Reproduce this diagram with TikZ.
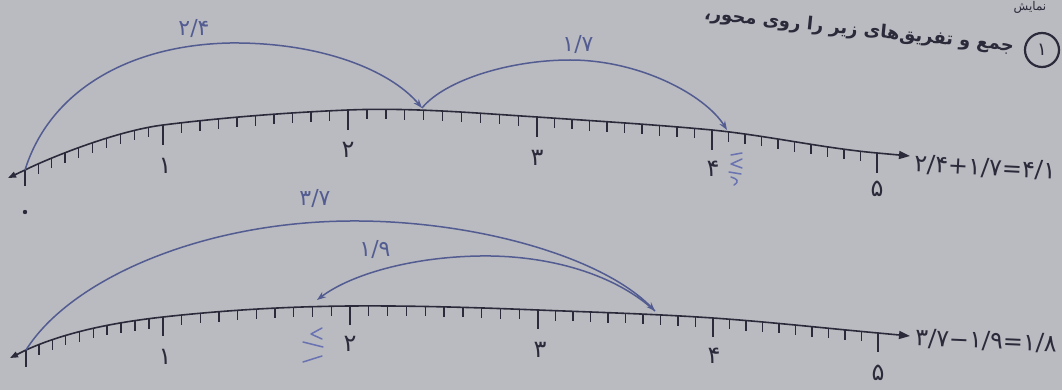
\documentclass[tikz,border=0pt]{standalone}
\usepackage{fontspec}
\setmainfont{DejaVu Sans}
\newfontfamily\arabicfont[Script=Arabic]{DejaVu Sans}
\newfontfamily\digitfont{DejaVu Sans}
\TeXXeTstate=1
\usetikzlibrary{decorations.markings,arrows.meta}
\definecolor{paper}{RGB}{186,186,193}
\definecolor{ink}{RGB}{42,42,58}
\definecolor{pen}{RGB}{82,92,145}
\definecolor{hand}{RGB}{105,115,178}
\begin{document}
\begin{tikzpicture}[x=1pt,y=-1pt,
  axisline/.style={ink, line width=1.6pt},
  tickline/.style={ink, line width=1.3pt},
  majortick/.style={ink, line width=1.6pt},
  minorticks/.style={decorate, decoration={markings,
     mark=between positions 0.1 and 0.95 step 0.1 with
     {\pgftransformresetnontranslations \draw[tickline] (0,0) -- (0,10);}}},
  axisarrow/.style={axisline, -{Triangle[length=11pt,width=8pt]}},
  jump/.style={pen, line width=1.5pt, -{Stealth[length=9pt,width=6.5pt]}},
  lab/.style={ink, font=\digitfont\fontsize{24}{26}\selectfont, inner sep=0pt},
  arclab/.style={pen, font=\digitfont\fontsize{22}{24}\selectfont, inner sep=0pt},
  eq/.style={ink, font=\digitfont\fontsize{24}{26}\selectfont, inner sep=0pt, anchor=west},
  handpen/.style={hand, line width=1.5pt, line cap=round, line join=round}]
\useasboundingbox (0,0) rectangle (1062,390);
\fill[paper] (0,0) rectangle (1062,390);

% ---------- header ----------
\node[ink, font=\arabicfont\fontsize{12}{14}\selectfont, inner sep=0pt, anchor=north] (prev) at (1030,1) {\beginR نمایش\endR};
\node[draw=ink, circle, line width=2.2pt, minimum size=34pt, inner sep=0pt,
      font=\digitfont\fontsize{18}{20}\selectfont, text=ink] (num) at (1042,50) {۱};
\node[ink, font=\arabicfont\bfseries\fontsize{18}{20}\selectfont, inner sep=0pt, anchor=east, rotate=-6] (hdr) at (1014,47)
  {\beginR جمع و تفریق‌های زیر را روی محور،\endR};

% ---------- top axis ----------
\coordinate (AL) at (8,178);
\coordinate (A0) at (25,170);
\coordinate (A1) at (163,125);
\coordinate (A2) at (348,110);
\coordinate (A3) at (537,117);
\coordinate (A4) at (712,130);
\coordinate (A5) at (877,153);
\coordinate (AR) at (910,156);
\draw[axisline] (A0) .. controls (47,159) and (115,131) .. (A1)
   .. controls (223,117.5) and (288,112.5) .. (A2)
   .. controls (411,107.4) and (474,113) .. (A3)
   .. controls (595,121) and (654,124.5) .. (A4)
   .. controls (767,135.5) and (822,148) .. (A5);
\draw[axisarrow] (A5) -- (AR);
\draw[axisline, -{Triangle[length=8pt,width=6pt]}] (A0) -- (AL);
\path[minorticks] (A0) .. controls (47,159) and (115,131) .. (A1);
\path[minorticks] (A1) .. controls (223,117.5) and (288,112.5) .. (A2);
\path[minorticks] (A2) .. controls (411,107.4) and (474,113) .. (A3);
\path[minorticks] (A3) .. controls (595,121) and (654,124.5) .. (A4);
\path[minorticks] (A4) .. controls (767,135.5) and (822,148) .. (A5);
\draw[majortick] (A0) -- ++(0,16);
\foreach \p in {A1,A2,A3,A4,A5} \draw[majortick] (\p) -- ++(0,20);
\node[lab] (a1) at (165,166) {۱};
\node[lab] (a2) at (348,150) {۲};
\node[lab] (a3) at (537,158) {۳};
\node[lab] (a4) at (713,169) {۴};
\node[lab] (a5) at (877,189) {۵};
\node[eq, rotate=-3] (eqa) at (914,164) {۲/۴+۱/۷=۴/۱};

% top jumps
\coordinate (J1) at (422,108);
\coordinate (J2) at (727,130);
\draw[jump] (A0) .. controls (50,90) and (130,45) .. (230,43)
   .. controls (320,42) and (390,70) .. (J1);
\draw[jump] (J1) .. controls (445,80) and (510,60) .. (570,60)
   .. controls (640,60) and (705,95) .. (J2);
\node[arclab] (la) at (194,29) {۲/۴};
\node[arclab] (lb) at (578,45) {۱/۷};

% handwritten mark near 4
\draw[handpen] (731,155) -- (742,153);
\draw[handpen] (742,159) -- (731,164) -- (742,168);
\draw[handpen] (729,172) -- (741,174);
\draw[handpen] (731,177) .. controls (737,179) and (740,181) .. (734,185);

\fill[ink] (25,212) circle (2.2);

% ---------- bottom axis ----------
\coordinate (BL) at (10,358);
\coordinate (B0) at (26,350);
\coordinate (B1) at (163,317);
\coordinate (B2) at (350,306);
\coordinate (B3) at (538,310);
\coordinate (B4) at (713,318);
\coordinate (B5) at (878,333);
\coordinate (BR) at (910,336);
\draw[axisline] (B0) .. controls (68,331) and (118,322) .. (B1)
   .. controls (225,310.1) and (288,306.5) .. (B2)
   .. controls (413,305.5) and (475,307.5) .. (B3)
   .. controls (596,312.3) and (655,314) .. (B4)
   .. controls (768,321.8) and (823,328) .. (B5);
\draw[axisarrow] (B5) -- (BR);
\draw[axisline, -{Triangle[length=8pt,width=6pt]}] (B0) -- (BL);
\path[minorticks] (B0) .. controls (68,331) and (118,322) .. (B1);
\path[minorticks] (B1) .. controls (225,310.1) and (288,306.5) .. (B2);
\path[minorticks] (B2) .. controls (413,305.5) and (475,307.5) .. (B3);
\path[minorticks] (B3) .. controls (596,312.3) and (655,314) .. (B4);
\path[minorticks] (B4) .. controls (768,321.8) and (823,328) .. (B5);
\draw[majortick] (B0) -- ++(0,17);
\foreach \p in {B1,B2,B3,B4,B5} \draw[majortick] (\p) -- ++(0,19);
\node[lab] (b1) at (165,357) {۱};
\node[lab] (b2) at (350,344) {۲};
\node[lab] (b3) at (540,350) {۳};
\node[lab] (b4) at (714,356) {۴};
\node[lab] (b5) at (878,373) {۵};
\node[eq, rotate=-2.5] (eqb) at (915,338) {۳/۷−۱/۹=۱/۸};

% bottom jumps
\coordinate (K1) at (655,311);
\coordinate (K2) at (317,300);
\draw[jump] (B0) .. controls (70,280) and (200,222) .. (350,221)
   .. controls (470,220) and (600,255) .. (K1);
\draw[jump] (K1) .. controls (610,270) and (540,255) .. (480,256)
   .. controls (410,257) and (350,275) .. (K2);
\node[arclab] (lc) at (315,199) {۳/۷};
\node[arclab] (ld) at (375,250) {۱/۹};

% handwritten mark near 2
\draw[handpen] (322,328) -- (311,334) -- (322,339);
\draw[handpen] (303,342) -- (323,347);
\draw[handpen] (303,362) -- (322,356);
\end{tikzpicture}
\end{document}
